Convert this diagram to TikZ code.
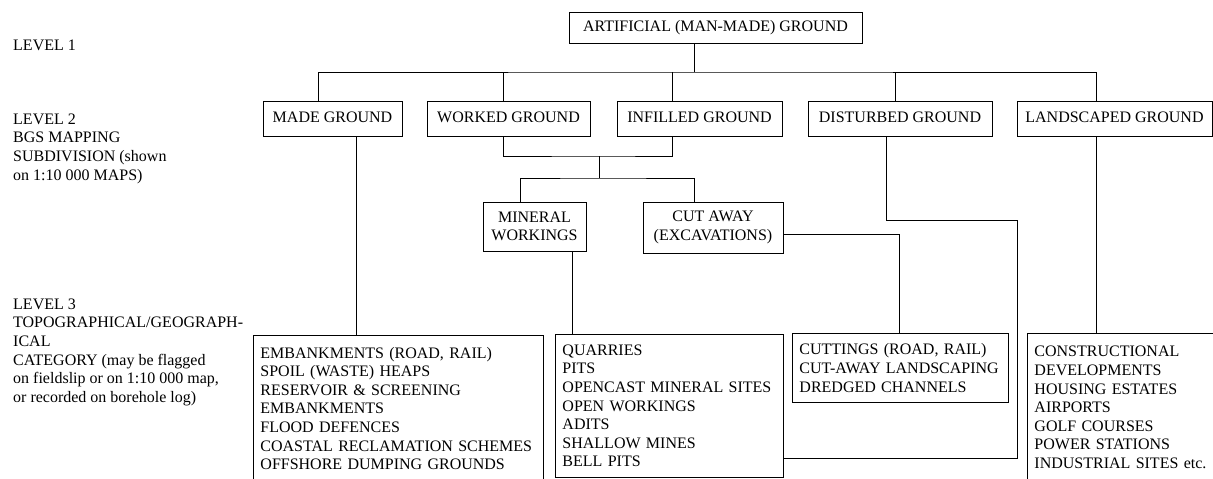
\documentclass[tikz,border=0pt]{standalone}
\usepackage{fontspec}
\setmainfont{Liberation Serif}
\begin{document}
\begin{tikzpicture}[x=1pt,y=-1pt,font=\fontsize{16pt}{18.6pt}\selectfont]
\tikzstyle{every node}+=[inner sep=0pt]
\tikzstyle{groundbox}=[draw,line width=0.9pt,minimum height=35pt,text height=11pt,text depth=3pt]
\tikzstyle{workbox}=[draw,line width=0.9pt,align=center]
\tikzstyle{listbox}=[draw,line width=0.9pt,anchor=north west,inner xsep=7pt,align=left]
\tikzstyle{leveltext}=[anchor=north west,align=left]
\tikzstyle{link}=[line width=0.9pt]

\useasboundingbox (0,0) rectangle (1213,479);
\clip (0,0) rectangle (1213,479);

% level labels on the left
\node [leveltext] (levelone) at (13,39.5) {LEVEL 1};
\node [leveltext] (leveltwo) at (13,113.5) {LEVEL 2\\BGS MAPPING\\SUBDIVISION (shown\\on 1:10 000 MAPS)};
\node [leveltext] (levelthree) at (13,298.5) {LEVEL 3\\TOPOGRAPHICAL/GEOGRAPH-\\ICAL\\CATEGORY (may be flagged\\on fieldslip or on 1:10 000 map,\\or recorded on borehole log)};

% level 1 and 2
\node [groundbox,minimum width=293pt,minimum height=31pt] (artificial) at (715.5,27.5) {ARTIFICIAL (MAN-MADE) GROUND};
\node [groundbox,minimum width=139pt] (made) at (332.5,118.5) {MADE GROUND};
\node [groundbox,minimum width=163pt] (worked) at (508.5,118.5) {WORKED GROUND};
\node [groundbox,minimum width=165pt] (infilled) at (699.5,118.5) {INFILLED GROUND};
\node [groundbox,minimum width=184pt] (disturbed) at (900,118.5) {DISTURBED GROUND};
\node [groundbox,minimum width=195pt] (landscaped) at (1114.5,118.5) {LANDSCAPED GROUND};

\node [workbox,minimum width=103pt,minimum height=49pt] (mineral) at (534.5,226.5) {MINERAL\\WORKINGS};
\node [workbox,minimum width=140pt,minimum height=51pt] (cutaway) at (713,227.5) {CUT AWAY\\(EXCAVATIONS)};

% level 3 lists
\node [listbox,text width=276pt,minimum width=290pt,minimum height=146pt] (embank) at (253,335) {EMBANKMENTS (ROAD, RAIL)\\SPOIL (WASTE) HEAPS\\RESERVOIR \& SCREENING\\EMBANKMENTS\\FLOOD DEFENCES\\COASTAL RECLAMATION SCHEMES\\OFFSHORE DUMPING GROUNDS};
\node [listbox,text width=214pt,minimum width=228pt,minimum height=143pt] (quarries) at (555,334) {QUARRIES\\PITS\\OPENCAST MINERAL SITES\\OPEN WORKINGS\\ADITS\\SHALLOW MINES\\BELL PITS};
\node [listbox,text width=202pt,minimum width=216pt,minimum height=69pt] (cuttings) at (792,333) {CUTTINGS (ROAD, RAIL)\\CUT-AWAY LANDSCAPING\\DREDGED CHANNELS};
\node [listbox,text width=186pt,minimum width=200pt,minimum height=148pt] (constr) at (1027,333) {CONSTRUCTIONAL\\DEVELOPMENTS\\HOUSING ESTATES\\AIRPORTS\\GOLF COURSES\\POWER STATIONS\\INDUSTRIAL SITES etc.};

% connectors
\coordinate (split) at (694,72);
\draw [link] (artificial.south -| split) -- (split);
\draw [link] (made.north -| 318,0) |- (split) -| (landscaped.north -| 1096,0);
\foreach \n/\x in {worked/503,infilled/672,disturbed/895}
  \draw [link] (\n.north -| \x,0) -- (split -| \x,0);

\coordinate (pit) at (599,156);
\coordinate (pitsplit) at (599,178);
\draw [link] (worked.south -| 503,0) |- (pit) -| (infilled.south -| 672,0);
\draw [link] (pit) -- (pitsplit);
\draw [link] (mineral.north -| 520,0) |- (pitsplit) -| (cutaway.north -| 694,0);

\draw [link] (made.south -| 356,0) -- (embank.north -| 356,0);
\draw [link] (mineral.south -| 572,0) -- (quarries.north -| 572,0);
\draw [link] (cutaway.east |- 0,234) -| (cuttings.north -| 899,0);
\coordinate (bend) at (1017,220);
\draw [link] (disturbed.south -| 886,0) |- (bend) |- (quarries.east |- 0,458);
\draw [link] (landscaped.south -| 1096,0) -- (constr.north -| 1096,0);
\end{tikzpicture}
\end{document}
